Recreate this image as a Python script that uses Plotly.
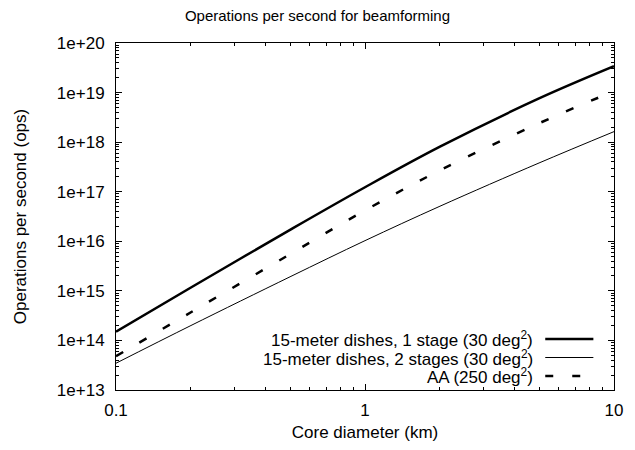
import plotly.graph_objects as go

# Data
core_diameter_km = [0.1, 0.2, 0.5, 1, 2, 5, 10]
ops_dishes_1stage = [1.5e14, 1.17e15, 1.7e16, 1.23e17, 8.1e17, 7.6e18, 3.4e19]
ops_dishes_2stage = [3.47e13, 2.0e14, 1.92e15, 1.03e16, 5.1e16, 3.8e17, 1.63e18]
ops_aa = [4.8e13, 3.7e14, 5.5e15, 4.2e16, 2.7e17, 2.4e18, 1.07e19]

series_names = [
    "15-meter dishes, 1 stage (30 deg<sup>2</sup>)",
    "15-meter dishes, 2 stages (30 deg<sup>2</sup>)",
    "AA (250 deg<sup>2</sup>)",
]

y_tick_vals = [1e13, 1e14, 1e15, 1e16, 1e17, 1e18, 1e19, 1e20]
y_tick_text = ["1e+13", "1e+14", "1e+15", "1e+16", "1e+17", "1e+18", "1e+19", "1e+20"]
x_tick_vals = [0.1, 1, 10]
x_tick_text = ["0.1", "1", "10"]

FONT = "Liberation Sans, Arial, Helvetica, sans-serif"
FS = 17
styles = [
    dict(color="black", width=2.5, dash="solid"),
    dict(color="black", width=1, dash="solid"),
    dict(color="black", width=2.5, dash="8px,19px"),
]

fig = go.Figure()
for name, ys, st in zip(series_names, [ops_dishes_1stage, ops_dishes_2stage, ops_aa], styles):
    fig.add_trace(go.Scatter(x=core_diameter_km, y=ys, mode="lines", name=name,
                             line=dict(st, shape="spline", smoothing=1.0),
                             showlegend=False))

def minor_vals(lo_exp, hi_exp):
    out = []
    for e in range(lo_exp, hi_exp):
        for m in range(2, 10):
            out.append(m * 10.0 ** e)
    return out

axis_common = dict(
    showline=True, linecolor="black", linewidth=1, mirror="allticks",
    ticks="inside", ticklen=6, tickwidth=1, tickcolor="black",
    showgrid=False, zeroline=False,
    tickfont=dict(family=FONT, size=FS, color="black"),
    title_font=dict(family=FONT, size=FS, color="black"),
)

fig.update_xaxes(type="log", range=[-1, 1], tickmode="array", tickvals=x_tick_vals,
                 ticktext=x_tick_text, title_text="Core diameter (km)", title_standoff=6,
                 ticklabelstandoff=5,
                 minor=dict(ticks="inside", ticklen=3, tickcolor="black",
                            tickvals=minor_vals(-1, 1), showgrid=False),
                 **axis_common)
fig.update_yaxes(type="log", range=[13, 20], tickmode="array", tickvals=y_tick_vals,
                 ticktext=y_tick_text, title_text="Operations per second (ops)",
                 title_standoff=25, ticklabelstandoff=7,
                 minor=dict(ticks="inside", ticklen=3, tickcolor="black",
                            tickvals=minor_vals(13, 20), showgrid=False),
                 **axis_common)

# Gnuplot-style key: right-aligned text with line sample on its right
x0, x1 = 116, 623
y0, y1 = 390, 43
def px(x):
    return (x - x0) / (x1 - x0)
def py(y):
    return (y0 - y) / (y0 - y1)

rows_y = [339, 357.5, 376]
for name, st, ry in zip(series_names, styles, rows_y):
    fig.add_annotation(x=px(543), y=py(ry), xref="paper", yref="paper",
                       xanchor="right", yanchor="middle", showarrow=False,
                       text=name, font=dict(family=FONT, size=FS, color="black"))
    fig.add_shape(type="line", xref="paper", yref="paper",
                  x0=px(553), x1=px(602), y0=py(ry), y1=py(ry),
                  line=dict(color="black", width=st["width"],
                            dash=("8px,19px" if st["dash"] != "solid" else "solid")))

fig.update_layout(
    width=635, height=450,
    margin=dict(l=116, r=12, t=43, b=60),
    paper_bgcolor="white", plot_bgcolor="white",
    title=dict(text="Operations per second for beamforming", x=0.5, xanchor="center",
               y=1 - 16 / 450, yanchor="middle",
               font=dict(family=FONT, size=15, color="black")),
    showlegend=False,
)

fig.write_html("out.html")
